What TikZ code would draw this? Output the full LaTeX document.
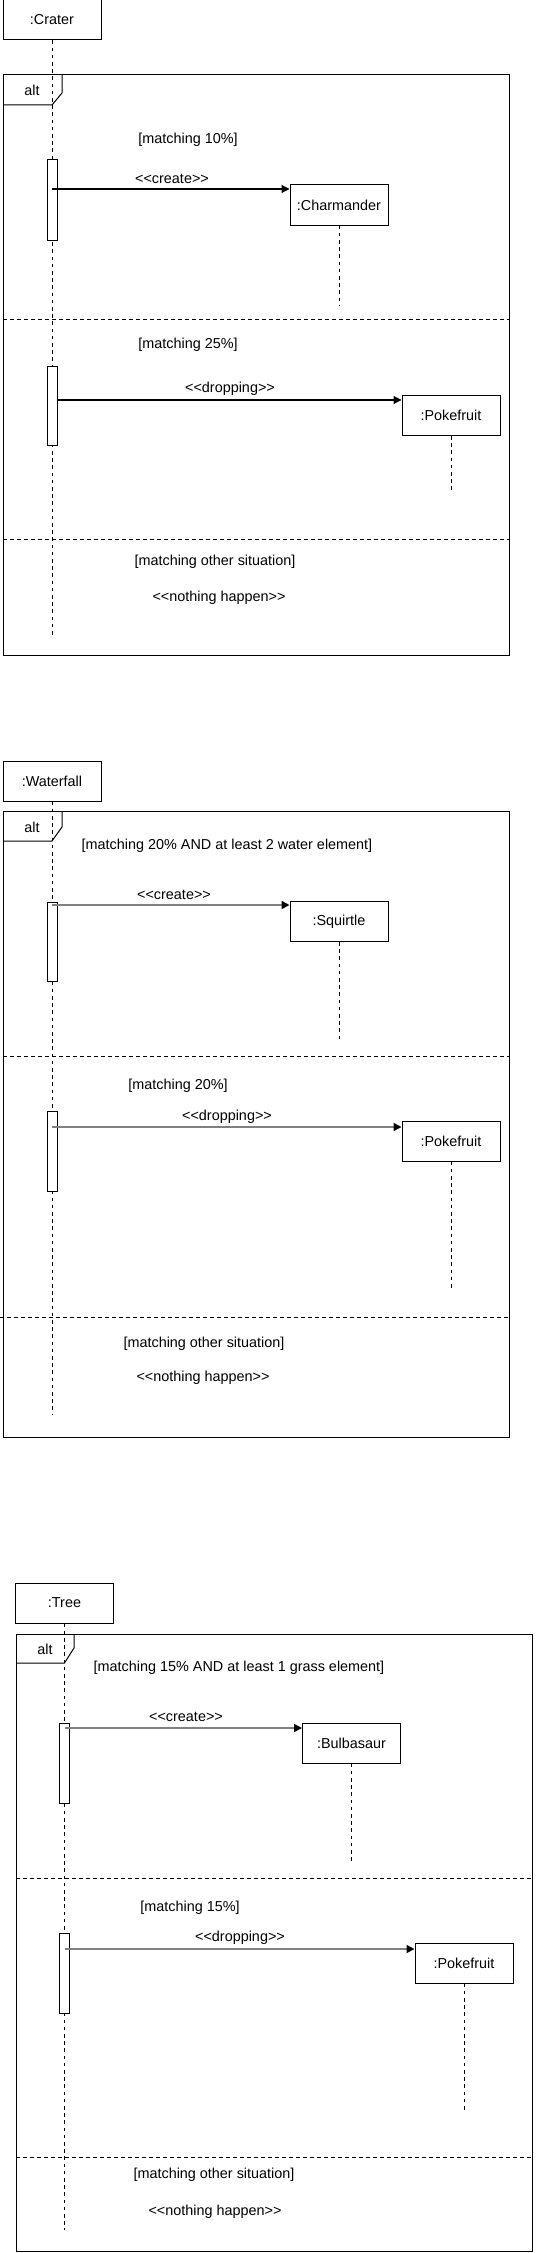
\documentclass[tikz,border=0pt]{standalone}
\usepackage{fontspec}
\setmainfont{Liberation Sans}[Ligatures=TeXOff]
\usetikzlibrary{arrows.meta}
\tikzset{
	obj/.style={draw, line width=1pt, fill=white, minimum width=98pt, minimum height=40pt, inner sep=0pt},
	actbar/.style={draw, line width=1pt, fill=white, minimum width=10pt, inner sep=0pt},
	life/.style={line width=1pt, dash pattern=on 3.6pt off 3.6pt},
	divider/.style={line width=1pt, dash pattern=on 4pt off 3pt},
	msg/.style={line width=1.1pt, -{Triangle[length=8pt, width=8pt]}},
	msggray/.style={line width=1.6pt, draw=black!50, -{Triangle[color=black, length=8pt, width=8pt]}},
	lbl/.style={inner sep=0pt}
}
\begin{document}
\begin{tikzpicture}[x=1pt, y=-1pt, font=\fontsize{14.4pt}{17pt}\selectfont]
			%%%%% START %%%%%
			\useasboundingbox (0, 0) rectangle (537, 2253);
			
			%%%%% Crater %%%%%
			\coordinate (crEnd) at (52, 636);
			\node[obj] (crater) at (52, 20) {:Crater};
			\draw[life] (crater.south) -- (crEnd);
			
			\draw[line width=1pt] (3, 75) rectangle (509, 655);
			\draw[line width=1pt] (3, 105) -- (52, 105) -- (62, 93) -- (62, 75);
			\node[lbl] (alt1) at (32, 90) {alt};
			
			\node[lbl] (g11) at (188, 140) {[matching 10\%]};
			\node[actbar, minimum height=80pt] (a1) at (52, 200) {};
			\coordinate (m1) at (52, 189);
			\node[obj] (charm) at (339, 205) {:Charmander};
			\draw[msg] (m1) -- (m1 -| charm.west);
			\node[lbl] (l11) at (172, 179) {<<create>>};
			\coordinate (chEnd) at (339, 305);
			\draw[life] (charm.south) -- (chEnd);
			
			\draw[divider] (3, 319) -- (509, 319);
			\node[lbl] (g12) at (188, 345) {[matching 25\%]};
			\node[actbar, minimum height=79pt] (a2) at (52, 405.5) {};
			\coordinate (m2) at (57, 400);
			\node[obj] (poke1) at (451, 415.5) {:Pokefruit};
			\draw[msg] (m2) -- (m2 -| poke1.west);
			\node[lbl] (l12) at (230, 389) {<<dropping>>};
			\coordinate (p1End) at (451, 492);
			\draw[life] (poke1.south) -- (p1End);
			
			\draw[divider] (3, 539) -- (509, 539);
			\node[lbl] (g13) at (215, 562) {[matching other situation]};
			\node[lbl] (l13) at (219, 598) {<<nothing happen>>};
			
			%%%%% Waterfall %%%%%
			\coordinate (waEnd) at (52, 1415);
			\node[obj] (water) at (52, 781) {:Waterfall};
			\draw[life] (water.south) -- (waEnd);
			
			\draw[line width=1pt] (3, 811) rectangle (509, 1437);
			\draw[line width=1pt] (3, 841) -- (52, 841) -- (62, 827) -- (62, 811);
			\node[lbl] (alt2) at (32, 827) {alt};
			
			\node[lbl] (g21) at (227, 846) {[matching 20\% AND at least 2 water element]};
			\node[actbar, minimum height=79pt] (a3) at (52, 941.5) {};
			\coordinate (m3) at (52, 905);
			\node[obj] (squirt) at (339, 921.5) {:Squirtle};
			\draw[msggray] (m3) -- (m3 -| squirt.west);
			\node[lbl] (l21) at (174, 895) {<<create>>};
			\coordinate (sqEnd) at (339, 1040);
			\draw[life] (squirt.south) -- (sqEnd);
			
			\draw[divider] (3, 1056) -- (509, 1056);
			\node[lbl] (g22) at (178, 1086) {[matching 20\%]};
			\node[actbar, minimum height=80pt] (a4) at (52, 1151) {};
			\coordinate (m4) at (52, 1127);
			\node[obj] (poke2) at (451, 1141) {:Pokefruit};
			\draw[msggray] (m4) -- (m4 -| poke2.west);
			\node[lbl] (l22) at (227, 1117) {<<dropping>>};
			\coordinate (p2End) at (451, 1290);
			\draw[life] (poke2.south) -- (p2End);
			
			\draw[divider] (0, 1317) -- (511, 1317);
			\node[lbl] (g23) at (204, 1344) {[matching other situation]};
			\node[lbl] (l23) at (203, 1378) {<<nothing happen>>};
			
			%%%%% Tree %%%%%
			\coordinate (trEnd) at (64.5, 2230);
			\node[obj] (tree) at (64.5, 1603) {:Tree};
			\draw[life] (tree.south) -- (trEnd);
			
			\draw[line width=1pt] (16, 1634) rectangle (532, 2251.5);
			\draw[line width=1pt] (16, 1663) -- (64.5, 1663) -- (74, 1648) -- (74, 1634);
			\node[lbl] (alt3) at (45, 1649) {alt};
			
			\node[lbl] (g31) at (239, 1668) {[matching 15\% AND at least 1 grass element]};
			\node[actbar, minimum height=80pt] (a5) at (64.5, 1763) {};
			\coordinate (m5) at (64.5, 1728);
			\node[obj] (bulba) at (351.5, 1743) {:Bulbasaur};
			\draw[msggray] (m5) -- (m5 -| bulba.west);
			\node[lbl] (l31) at (186, 1717) {<<create>>};
			\coordinate (buEnd) at (351.5, 1862);
			\draw[life] (bulba.south) -- (buEnd);
			
			\draw[divider] (16, 1878) -- (532, 1878);
			\node[lbl] (g32) at (190, 1908) {[matching 15\%]};
			\node[actbar, minimum height=80pt] (a6) at (64.5, 1973) {};
			\coordinate (m6) at (64.5, 1949);
			\node[obj] (poke3) at (464, 1963) {:Pokefruit};
			\draw[msggray] (m6) -- (m6 -| poke3.west);
			\node[lbl] (l32) at (240, 1938) {<<dropping>>};
			\coordinate (p3End) at (464, 2112);
			\draw[life] (poke3.south) -- (p3End);
			
			\draw[divider] (16, 2157) -- (532, 2157);
			\node[lbl] (g33) at (214, 2175) {[matching other situation]};
			\node[lbl] (l33) at (215, 2212) {<<nothing happen>>};
			
			%%%%% END %%%%%
		\end{tikzpicture}
\end{document}
